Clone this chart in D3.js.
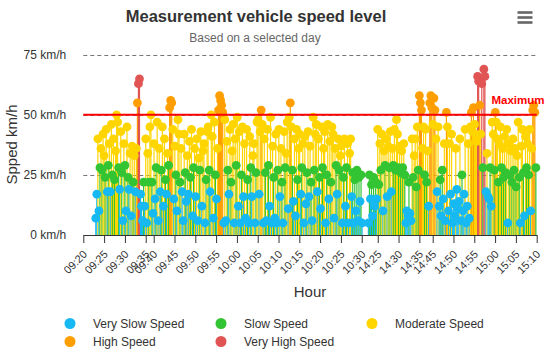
<!DOCTYPE html>
<html><head><meta charset="utf-8">
<script src="https://cdn.jsdelivr.net/npm/d3@7"></script>
<style>
html,body{margin:0;padding:0;background:#fff;}
svg{display:block;font-family:"Liberation Sans",Arial,Helvetica,sans-serif;}
</style>
</head><body><div id="chart"></div>
<script>
// ---------- data ----------
const categories = ["Very Slow Speed", "Slow Speed", "Moderate Speed", "High Speed", "Very High Speed"];
const categoryColors = ["#17b9f3", "#33c433", "#ffd500", "#ff9e00", "#e15454"];
const speedThresholds = [20, 30, 51, 60];
const yTicks = [0, 25, 50, 75];
const xTickLabels = ["09:20","09:25","09:30","09:35","09:40","09:45","09:50","09:55","10:00","10:05","10:10","10:15","10:20","10:25","10:30","14:25","14:30","14:35","14:45","14:50","14:55","15:00","15:05","15:10"];
const axisStart = "09:20:00", axisEnd = "15:10:00";
const axisBreaks = [["09:36:00","09:39:05"],["10:31:00","14:22:09"],["14:36:30","14:43:18"]];
const maximumSpeed = 50;
const sampleSeconds = 15;
const runStarts = ["09:23:00", "09:39:05", "14:22:45", "14:43:18"];
const run1Speeds = [7,17,40,10,28,36,27,42,33,24,44,18,29,38,18,46,25,40,23,35,50,47,28,19,43,26,6,38,29,10,45,24,19,34,8,37,22,33,18,36,55,63,65,17,12,6,22,12,40,5,34,22];
const run2Speeds = [
 45,50,22,9, 38,15,28,47, 6,36,18,27, 45,12,40,23, 17,34,29,53, 56,55,44,15, 37,25,10,48, 42,22,36,18,
 6,42,26,14, 33,17,39,24, 44,8,28,36, 16,40,6,32, 27,43,12,35, 38,5,23,43, 45,27,18,50, 41,7,47,25,
 15,36,52,58, 56,54,51,5, 48,6,39,27, 17,44,22,35, 46,5,40,29, 49,12,43,5, 25,45,16,38, 7,44,23,5,
 41,28,16,33, 38,5,26,47, 48,17,43,52, 46,5,40,26, 6,44,29,12, 49,5,37,24, 7,42,5,27, 44,16,36,22,
 5,43,28,34, 47,11,49,55, 45,27,14,40, 8,44,23,36, 42,17,28,38, 5,41,13,26, 43,16,37,22, 6,49,27,42,
 46,18,40,24, 11,45,28,36, 43,5,25,46, 15,39,22,45, 42,7,36,29, 17,40,27,33, 37,5,24,40, 12,28,38,5,
 34,40,16,26, 5,23,10,27, 6,24,14,25, 5];
const run3Speeds = [5,25,15,21, 8,24,12,22, 15,44,21,38, 27,42,10,35, 29,40,16,37, 28,43,18,36, 29,44,27,48,
 42,28,37,26, 35,28,38,25, 5,10,8,22, 9,6,40,24, 33,40,20,45, 27,58,55,52, 36,45,25];
const run4Speeds = [44,22,35,12, 55,58,53,46, 57,52,40,18, 45,12,23,8, 27,15,38,6, 51,45,10,38, 17,42,5,13,
 8,36,19,11, 14,40,6,25, 10,17,44,5, 12,38,7,45, 51,43,53,46, 42,39,66,64, 54,42,63,28, 69,66,18,34,
 16,15,28,12, 47,42,27,51, 47,40,22,38, 45,28,36,24, 41,26,44,5, 38,25,35,22, 40,27,36,20, 33,47,24,5,
 37,44,26,8, 41,28,38,25, 44,10,36,52, 54,51,28];
const runSpeeds = [run1Speeds, run2Speeds, run3Speeds, run4Speeds];

// ---------- layout ----------
const W = 550, H = 353;
const plotLeft = 83.3, plotRight = 536.7, plotTop = 54.8, plotBottom = 235;
const parseT = d3.timeParse("%H:%M:%S");
const parseHM = d3.timeParse("%H:%M");

// compressed (ordinal-like) time axis built from the breaks
const domainPts = [parseT(axisStart)];
axisBreaks.forEach(b => { domainPts.push(parseT(b[0]), parseT(b[1])); });
domainPts.push(parseT(axisEnd));
const eff = [0];
for (let k = 1; k < domainPts.length; k++) {
  const isGap = (k % 2 === 0) && k < domainPts.length - 1;
  eff.push(eff[k-1] + (isGap ? 0 : (domainPts[k] - domainPts[k-1])));
}
const totalEff = eff[eff.length - 1];
const x = d3.scaleTime().domain(domainPts)
  .range(eff.map(e => plotLeft + e / totalEff * (plotRight - plotLeft)));
const y = d3.scaleLinear().domain([0, 75]).range([plotBottom, plotTop]);
const cat = d3.scaleThreshold().domain(speedThresholds).range(d3.range(categories.length));
const color = d3.scaleOrdinal().domain(d3.range(categories.length)).range(categoryColors);

const points = [];
runSpeeds.forEach((speeds, r) => {
  const t0 = parseT(runStarts[r]).getTime();
  speeds.forEach((v, i) => points.push({t: new Date(t0 + i * sampleSeconds * 1000), v, c: cat(v)}));
});

const svg = d3.select("#chart").append("svg").attr("width", W).attr("height", H);
svg.append("rect").attr("width", W).attr("height", H).attr("fill", "#fff");

// title
svg.append("text").attr("x", 256).attr("y", 22).attr("text-anchor", "middle")
  .attr("font-size", 16.5).attr("font-weight", "bold").attr("fill", "#333")
  .text("Measurement vehicle speed level");
svg.append("text").attr("x", 255).attr("y", 41.5).attr("text-anchor", "middle")
  .attr("font-size", 12).attr("fill", "#666").text("Based on a selected day");

// menu icon
[12.5, 17.5, 22.5].forEach(yy => svg.append("line").attr("x1", 517.5).attr("x2", 532.5)
  .attr("y1", yy).attr("y2", yy).attr("stroke", "#666").attr("stroke-width", 2.6));

// gridlines
svg.append("g").selectAll("line").data(yTicks.filter(d => d > 0)).join("line")
  .attr("x1", plotLeft).attr("x2", plotRight).attr("y1", d => Math.round(y(d)) + 0.5).attr("y2", d => Math.round(y(d)) + 0.5)
  .attr("stroke", "#777").attr("stroke-dasharray", "4,3").attr("stroke-width", 1);

// y axis labels
const yAxis = svg.append("g").attr("transform", `translate(${plotLeft - 14},0)`)
  .call(d3.axisLeft(y).tickValues(yTicks).tickFormat(d => d + " km/h").tickSize(0));
yAxis.select(".domain").remove();
yAxis.selectAll("text").attr("font-size", 12).attr("fill", "#333").attr("font-family", "Liberation Sans, Arial, sans-serif");

// stems
svg.append("g").selectAll("line").data(points).join("line")
  .attr("x1", d => x(d.t)).attr("x2", d => x(d.t))
  .attr("y1", y(0)).attr("y2", d => y(d.v))
  .attr("stroke", d => color(d.c)).attr("stroke-width", 1.2);

// markers grouped by series
const markerG = svg.append("g");
categories.forEach((name, ci) => {
  markerG.append("g").selectAll("circle").data(points.filter(p => p.c === ci)).join("circle")
    .attr("cx", d => x(d.t)).attr("cy", d => y(d.v)).attr("r", 4.4)
    .attr("fill", color(ci));
});

// maximum plot line
svg.append("line").attr("x1", plotLeft).attr("x2", plotRight)
  .attr("y1", y(maximumSpeed)).attr("y2", y(maximumSpeed))
  .attr("stroke", "#ff0000").attr("stroke-width", 2);
svg.append("text").attr("x", 491.5).attr("y", y(maximumSpeed) - 10.5)
  .attr("font-size", 11.5).attr("font-weight", "bold").attr("fill", "#ff0000").text("Maximum");

// x axis
const xAxis = svg.append("g").attr("transform", `translate(0,${plotBottom})`)
  .call(d3.axisBottom(x).tickValues(xTickLabels.map(parseHM)).tickFormat(d3.timeFormat("%H:%M")).tickSize(8).tickSizeOuter(0));
xAxis.select(".domain").attr("stroke", "#333");
xAxis.selectAll(".tick line").attr("stroke", "#333");
xAxis.selectAll("text").attr("x", 0).attr("y", 0).attr("dy", 0)
  .attr("text-anchor", "end").attr("transform", "translate(4,20) rotate(-45)")
  .attr("font-size", 11).attr("fill", "#333").attr("font-family", "Liberation Sans, Arial, sans-serif");

// axis titles
svg.append("text").attr("transform", "translate(16.5,144.5) rotate(-90)").attr("text-anchor", "middle")
  .attr("font-size", 15).attr("fill", "#333").text("Spped km/h");
svg.append("text").attr("x", (plotLeft + plotRight) / 2).attr("y", 297).attr("text-anchor", "middle")
  .attr("font-size", 15).attr("fill", "#333").text("Hour");

// legend
const legendCols = 3;
const legend = svg.append("g");
categories.forEach((name, i) => {
  const gx = 70 + (i % legendCols) * 151, gy = 323.5 + Math.floor(i / legendCols) * 18;
  const g = legend.append("g").attr("transform", `translate(${gx},${gy})`);
  g.append("circle").attr("r", 5.5).attr("fill", color(i));
  g.append("text").attr("x", 23).attr("y", 4.3).attr("font-size", 12).attr("fill", "#333").text(name);
});
</script>
</body></html>
